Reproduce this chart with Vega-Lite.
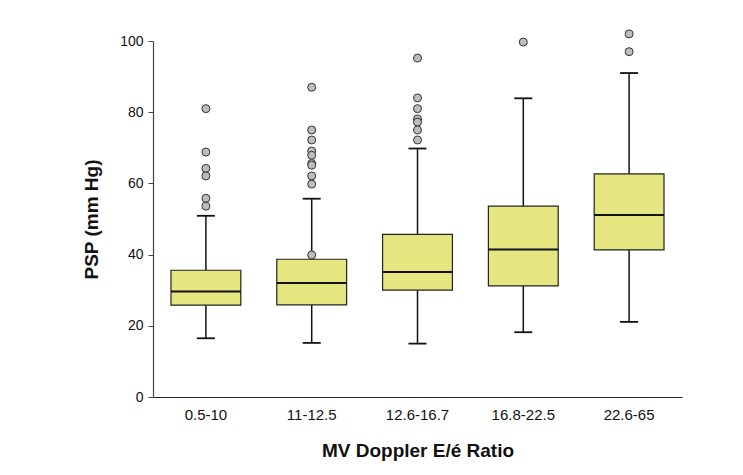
{
  "$schema": "https://vega.github.io/schema/vega-lite/v6.json",
  "width": 529,
  "height": 356,
  "autosize": "none",
  "padding": {"left": 153, "top": 41, "right": 61, "bottom": 78},
  "background": "white",
  "config": {
    "view": {"stroke": null},
    "font": "Liberation Sans",
    "axis": {
      "labelFont": "Liberation Sans",
      "titleFont": "Liberation Sans",
      "labelColor": "#111",
      "titleColor": "#111",
      "grid": false
    }
  },
  "datasets": {
    "stats": [
      {"group": "0.5-10", "lower": 16.5, "q1": 25.8, "median": 29.6, "q3": 35.6, "upper": 50.9},
      {"group": "11-12.5", "lower": 15.2, "q1": 25.9, "median": 32.0, "q3": 38.7, "upper": 55.7},
      {"group": "12.6-16.7", "lower": 15.0, "q1": 30.0, "median": 35.1, "q3": 45.7, "upper": 69.8},
      {"group": "16.8-22.5", "lower": 18.2, "q1": 31.2, "median": 41.4, "q3": 53.6, "upper": 83.9},
      {"group": "22.6-65", "lower": 21.1, "q1": 41.3, "median": 51.1, "q3": 62.7, "upper": 91.0}
    ],
    "outliers": [
      {"group": "0.5-10", "psp": 81.0},
      {"group": "0.5-10", "psp": 68.8},
      {"group": "0.5-10", "psp": 64.2},
      {"group": "0.5-10", "psp": 62.1},
      {"group": "0.5-10", "psp": 55.8},
      {"group": "0.5-10", "psp": 53.6},
      {"group": "11-12.5", "psp": 87.0},
      {"group": "11-12.5", "psp": 75.0},
      {"group": "11-12.5", "psp": 72.2},
      {"group": "11-12.5", "psp": 69.1},
      {"group": "11-12.5", "psp": 67.9},
      {"group": "11-12.5", "psp": 65.6},
      {"group": "11-12.5", "psp": 65.1},
      {"group": "11-12.5", "psp": 62.1},
      {"group": "11-12.5", "psp": 59.8},
      {"group": "11-12.5", "psp": 39.9},
      {"group": "12.6-16.7", "psp": 95.2},
      {"group": "12.6-16.7", "psp": 84.0},
      {"group": "12.6-16.7", "psp": 81.0},
      {"group": "12.6-16.7", "psp": 78.1},
      {"group": "12.6-16.7", "psp": 77.2},
      {"group": "12.6-16.7", "psp": 75.0},
      {"group": "12.6-16.7", "psp": 72.2},
      {"group": "16.8-22.5", "psp": 99.7},
      {"group": "22.6-65", "psp": 102.0},
      {"group": "22.6-65", "psp": 97.0}
    ]
  },
  "encoding": {
    "x": {
      "field": "group",
      "type": "nominal",
      "sort": null,
      "scale": {"paddingInner": 0, "paddingOuter": 0},
      "axis": {
        "title": "MV Doppler E/é Ratio",
        "labelAngle": 0,
        "labelFontSize": 15,
        "labelPadding": 10,
        "ticks": false,
        "domainColor": "#222",
        "domainWidth": 1.2,
        "titleFontSize": 19,
        "titleFontWeight": "bold",
        "titlePadding": 19
      }
    }
  },
  "layer": [
    {
      "data": {"name": "stats"},
      "mark": {"type": "rule", "color": "#111", "strokeWidth": 1.5},
      "encoding": {
        "y": {
          "field": "lower",
          "type": "quantitative",
          "scale": {"domain": [0, 100], "nice": false, "zero": true},
          "axis": {
            "title": "PSP (mm Hg)",
            "values": [0, 20, 40, 60, 80, 100],
            "labelFontSize": 14,
            "labelPadding": 5,
            "tickSize": 5,
            "tickColor": "#444",
            "domainColor": "#444",
            "domainWidth": 1.2,
            "titleFontSize": 19,
            "titleFontWeight": "bold",
            "titlePadding": 18
          }
        },
        "y2": {"field": "q1"}
      }
    },
    {
      "data": {"name": "stats"},
      "mark": {"type": "rule", "color": "#111", "strokeWidth": 1.5},
      "encoding": {
        "y": {"field": "q3", "type": "quantitative"},
        "y2": {"field": "upper"}
      }
    },
    {
      "data": {"name": "stats"},
      "mark": {"type": "bar", "width": {"band": 0.66}, "fill": "#e6e680", "stroke": "#222", "strokeWidth": 1.2},
      "encoding": {
        "y": {"field": "q1", "type": "quantitative"},
        "y2": {"field": "q3"}
      }
    },
    {
      "data": {"name": "stats"},
      "mark": {"type": "tick", "color": "#111", "size": 70, "thickness": 2, "opacity": 1},
      "encoding": {
        "y": {"field": "median", "type": "quantitative"}
      }
    },
    {
      "data": {"name": "stats"},
      "mark": {"type": "tick", "color": "#111", "size": 18, "thickness": 1.8, "opacity": 1},
      "encoding": {
        "y": {"field": "lower", "type": "quantitative"}
      }
    },
    {
      "data": {"name": "stats"},
      "mark": {"type": "tick", "color": "#111", "size": 18, "thickness": 1.8, "opacity": 1},
      "encoding": {
        "y": {"field": "upper", "type": "quantitative"}
      }
    },
    {
      "data": {"name": "outliers"},
      "mark": {"type": "point", "shape": "circle", "filled": true, "fill": "#bdbdbd", "stroke": "#333", "strokeWidth": 1, "size": 64, "opacity": 1, "clip": false},
      "encoding": {
        "y": {"field": "psp", "type": "quantitative"}
      }
    }
  ]
}
